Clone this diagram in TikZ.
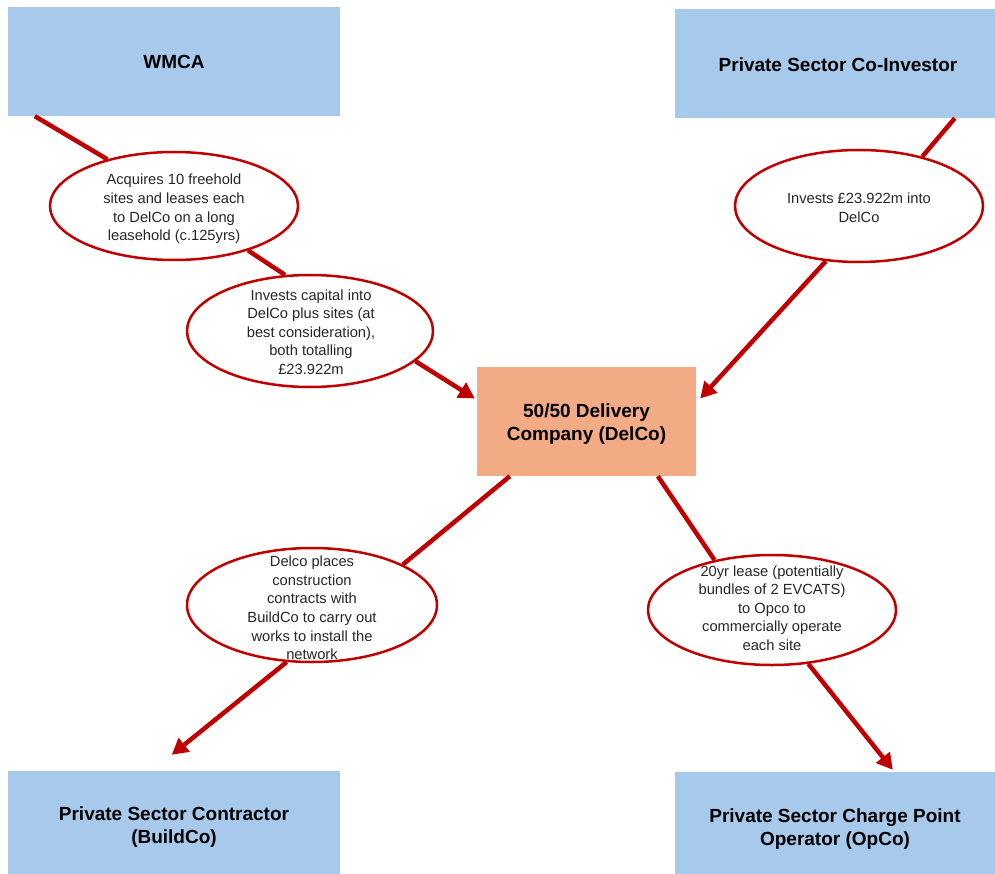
\documentclass[tikz,border=0pt]{standalone}
\usepackage{fontspec}
\setmainfont{Liberation Sans}
\usetikzlibrary{shapes.geometric,arrows.meta,calc}
\definecolor{boxblue}{HTML}{A7C9EB}
\definecolor{delcofill}{HTML}{F2AB84}
\definecolor{linkred}{HTML}{C00000}
\definecolor{ovaltxt}{HTML}{262626}
\tikzset{
  party/.style={rectangle, fill=boxblue, inner sep=0pt},
  hub/.style={rectangle, fill=delcofill, inner sep=0pt},
  boxtext/.style={align=center, inner sep=0pt, font=\fontsize{19}{23}\selectfont\bfseries},
  oval/.style={ellipse, draw=linkred, line width=2.5pt, fill=white, inner sep=0pt},
  ovaltext/.style={align=center, inner sep=0pt, text=ovaltxt, font=\fontsize{14.7}{18.6}\selectfont},
  link/.style={draw=linkred, line width=4.5pt},
  arrowlink/.style={link, -{Triangle[length=16pt,width=17pt]}},
}
\begin{document}
\begin{tikzpicture}[x=1pt,y=-1pt]
\useasboundingbox (0,0) rectangle (995,874);
% boxes
\node[party, minimum width=332pt, minimum height=109pt] (wmca) at (174,61.5) {};
\node[boxtext] (wmcaT) at (174,62) {WMCA};
\node[party, minimum width=320pt, minimum height=109pt] (coinv) at (835,63.5) {};
\node[boxtext] (coinvT) at (838,64.5) {Private Sector Co-Investor};
\node[hub, minimum width=219pt, minimum height=109pt] (delco) at (586.5,421.5) {};
\node[boxtext] (delcoT) at (586.5,424) {50/50 Delivery\\Company (DelCo)};
\node[party, minimum width=332pt, minimum height=103pt] (buildco) at (174,822.5) {};
\node[boxtext] (buildcoT) at (174,827) {Private Sector Contractor\\(BuildCo)};
\node[party, minimum width=320pt, minimum height=102pt] (opco) at (835,823) {};
\node[boxtext] (opcoT) at (835,829) {Private Sector Charge Point\\Operator (OpCo)};
% ovals
\node[oval, minimum width=248pt, minimum height=108pt] (e1) at (174,206) {};
\node[ovaltext] (t1) at (174,209) {Acquires 10 freehold\\sites and leases each\\to DelCo on a long\\leasehold (c.125yrs)};
\node[oval, minimum width=246pt, minimum height=112pt] (e2) at (310,331) {};
\node[ovaltext] (t2) at (311,332) {Invests capital into\\DelCo plus sites (at\\best consideration),\\both totalling\\£23.922m};
\node[oval, minimum width=248pt, minimum height=112pt] (e3) at (859,206) {};
\node[ovaltext] (t3) at (859,208) {Invests £23.922m into\\DelCo};
\node[oval, minimum width=250pt, minimum height=114pt] (e4) at (312,605) {};
\node[ovaltext] (t4) at (312,608) {Delco places\\construction\\contracts with\\BuildCo to carry out\\works to install the\\network};
\node[oval, minimum width=248pt, minimum height=110pt] (e5) at (772,610) {};
\node[ovaltext] (t5) at (772,608) {20yr lease (potentially\\bundles of 2 EVCATS)\\to Opco to\\commercially operate\\each site};
% anchor points
\coordinate (wOut) at ($(wmca.south west)+(27,0)$);
\coordinate (cOut) at ($(coinv.south west)+(280,0)$);
\coordinate (dInW) at ($(delco.west)+(-2,-23)$);
\coordinate (dInE) at ($(delco.east)+(4,-23)$);
\coordinate (dOutL) at ($(delco.south west)+(33,0)$);
\coordinate (dOutR) at ($(delco.south west)+(181,0)$);
\coordinate (bIn) at ($(buildco.north west)+(164,-16)$);
\coordinate (oIn) at ($(opco.north west)+(218,-2)$);
% connectors
\draw[link] (wOut) -- (e1.145);
\draw[link] (e1.-31) -- (e2.114);
\draw[arrowlink] (e2.-16) -- (dInW);
\draw[link] (cOut) -- (e3.38);
\draw[arrowlink] (e3.-121) -- (dInE);
\draw[link] (dOutL) -- (e4.24);
\draw[arrowlink] (e4.-114) -- (bIn);
\draw[link] (dOutR) -- (e5.139);
\draw[arrowlink] (e5.-56) -- (oIn);
\end{tikzpicture}
\end{document}
